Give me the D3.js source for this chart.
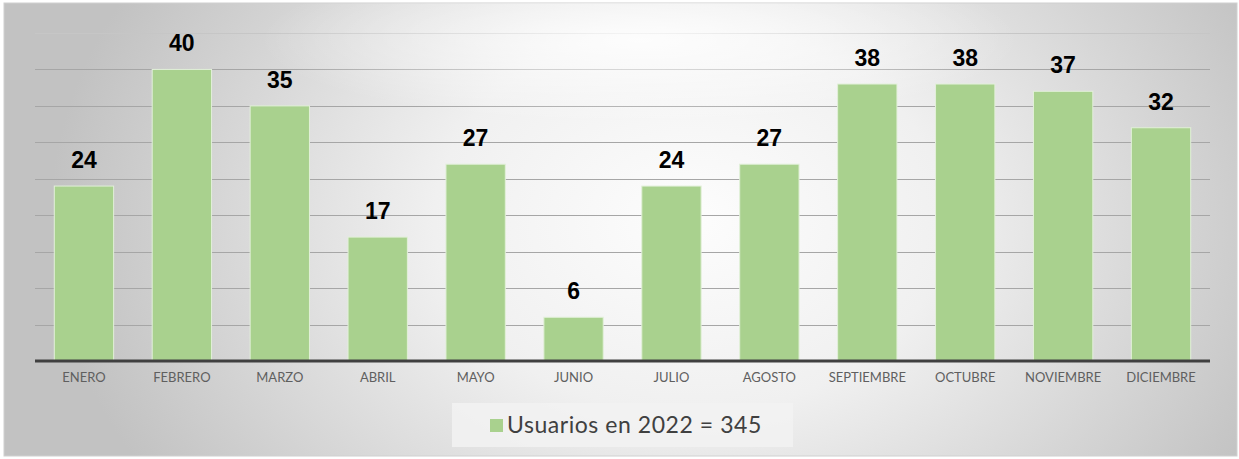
<!DOCTYPE html>
<html>
<head>
<meta charset="utf-8">
<script src="https://cdn.jsdelivr.net/npm/d3@7"></script>
<style>
  html, body { margin: 0; padding: 0; background: #ffffff; }
  svg { display: block; }
</style>
</head>
<body>
<svg id="chart" width="1239" height="459"></svg>
<script>
const months = ["ENERO","FEBRERO","MARZO","ABRIL","MAYO","JUNIO","JULIO","AGOSTO","SEPTIEMBRE","OCTUBRE","NOVIEMBRE","DICIEMBRE"];
const usuarios = [24, 40, 35, 17, 27, 6, 24, 27, 38, 38, 37, 32];
const seriesName = "Usuarios en 2022 = 345";
const gridTicks = [0, 5, 10, 15, 20, 25, 30, 35, 40, 45];

const svg = d3.select("#chart");

const defs = svg.append("defs");
const grad = defs.append("radialGradient")
  .attr("id", "bg")
  .attr("gradientUnits", "userSpaceOnUse")
  .attr("cx", 690).attr("cy", 220).attr("r", 640)
  .attr("gradientTransform", "translate(690,220) scale(1,0.75) translate(-690,-220)");
grad.append("stop").attr("offset", "0%").attr("stop-color", "#fdfdfd");
grad.append("stop").attr("offset", "40%").attr("stop-color", "#f0f0f0");
grad.append("stop").attr("offset", "100%").attr("stop-color", "#c2c2c2");

const glow = defs.append("radialGradient")
  .attr("id", "glow")
  .attr("gradientUnits", "userSpaceOnUse")
  .attr("cx", 640).attr("cy", 40).attr("r", 380)
  .attr("gradientTransform", "translate(640,40) scale(1,0.22) translate(-640,-40)");
glow.append("stop").attr("offset", "0%").attr("stop-color", "#ffffff").attr("stop-opacity", 0.85);
glow.append("stop").attr("offset", "100%").attr("stop-color", "#ffffff").attr("stop-opacity", 0);

// chart frame
svg.append("rect")
  .attr("x", 4).attr("y", 3).attr("width", 1233).attr("height", 453)
  .attr("fill", "url(#bg)")
  .attr("stroke", "#d0d0d0").attr("stroke-width", 1);

const plot = { left: 35, right: 1210, top: 33, bottom: 361 };

const x = d3.scaleBand()
  .domain(months)
  .range([plot.left, plot.right])
  .paddingInner(0.394)
  .paddingOuter(0.197);

const y = d3.scaleLinear()
  .domain([0, 45])
  .range([plot.bottom, plot.top]);

// gridlines
svg.append("g")
  .selectAll("line")
  .data(gridTicks.filter(d => d > 0))
  .join("line")
  .attr("x1", plot.left).attr("x2", plot.right)
  .attr("y1", d => Math.round(y(d)) + 0.5)
  .attr("y2", d => Math.round(y(d)) + 0.5)
  .attr("stroke", d => d === 45 ? "#c6c6c6" : "#a6a6a6")
  .attr("stroke-width", 1);

// soft light over the top of the plot area
svg.append("rect")
  .attr("x", 4).attr("y", 3).attr("width", 1233).attr("height", 150)
  .attr("fill", "url(#glow)");

// bars
svg.append("g")
  .selectAll("rect")
  .data(usuarios)
  .join("rect")
  .attr("x", (d, i) => x(months[i]))
  .attr("y", d => y(d))
  .attr("width", x.bandwidth())
  .attr("height", d => plot.bottom - y(d))
  .attr("fill", "#a9d18e")
  .attr("stroke", "#e2f0d9")
  .attr("stroke-width", 1);

// x axis
const xAxis = svg.append("g")
  .attr("transform", `translate(0,${plot.bottom})`)
  .call(d3.axisBottom(x).tickSize(0).tickPadding(12));
xAxis.select(".domain")
  .attr("stroke", "#404040")
  .attr("stroke-width", 3)
  .attr("d", `M${plot.left},0H${plot.right}`);
xAxis.selectAll(".tick text")
  .attr("fill", "#5f5f5f")
  .style("font-family", "Lato, 'Noto Sans', sans-serif")
  .style("font-size", "13px");

// data labels
svg.append("g")
  .selectAll("text")
  .data(usuarios)
  .join("text")
  .attr("x", (d, i) => x(months[i]) + x.bandwidth() / 2)
  .attr("y", d => y(d) - 18)
  .attr("text-anchor", "middle")
  .attr("fill", "#000000")
  .style("font-family", "'Liberation Sans', Arial, sans-serif")
  .style("font-weight", "bold")
  .style("font-size", "23px")
  .text(d => d);

// legend
const lg = svg.append("g");
lg.append("rect")
  .attr("x", 452).attr("y", 403).attr("width", 341).attr("height", 44)
  .attr("fill", "#f2f2f2").attr("fill-opacity", 0.85);
lg.append("rect")
  .attr("x", 490).attr("y", 419).attr("width", 13).attr("height", 13)
  .attr("fill", "#a9d18e");
lg.append("text")
  .attr("x", 507).attr("y", 433)
  .attr("fill", "#404040")
  .style("font-family", "Lato, 'Noto Sans', sans-serif")
  .style("font-size", "23px")
  .style("letter-spacing", "0.55px")
  .text(seriesName);
</script>
</body>
</html>
